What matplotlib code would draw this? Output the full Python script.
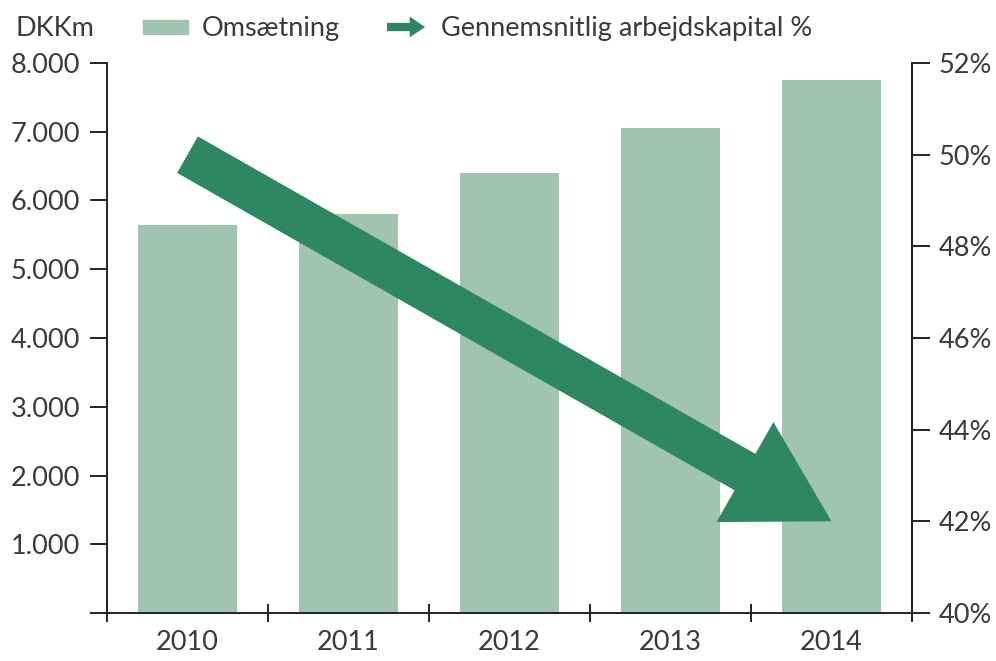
import matplotlib
matplotlib.use("Agg")
import matplotlib.pyplot as plt
from matplotlib.patches import Rectangle, FancyArrowPatch
from matplotlib.ticker import FuncFormatter, FixedLocator

# ---- data ----
years = ["2010", "2011", "2012", "2013", "2014"]
revenue = [5650, 5800, 6400, 7050, 7750]          # DKKm
wc_start = 50.0                                   # % in 2010
wc_end = 42.0                                     # % in 2014
left_ticks = [0, 1000, 2000, 3000, 4000, 5000, 6000, 7000, 8000]
right_ticks = [40, 42, 44, 46, 48, 50, 52]
legend_bar = "Omsætning"
legend_arrow = "Gennemsnitlig arbejdskapital %"
unit_label = "DKKm"

BAR_C = "#a0c4b1"
ARROW_C = "#2d8763"
TXT_C = "#3a3a3a"
FONT = ["Lato", "DejaVu Sans"]
FS = 19.5

plt.rcParams["font.family"] = FONT
plt.rcParams["text.color"] = TXT_C

W, H = 996, 661
fig = plt.figure(figsize=(W / 100, H / 100), dpi=100)
ax = fig.add_axes([107 / W, (H - 613) / H, (912 - 107) / W, 550 / H])

x = list(range(len(years)))
ax.bar(x, revenue, width=0.62, color=BAR_C, zorder=1)
ax.set_xlim(-0.5, len(years) - 0.5)
ax.set_ylim(0, 8000)

ax.spines["top"].set_visible(False)
for s in ["left", "bottom", "right"]:
    ax.spines[s].set_linewidth(1.4)
    ax.spines[s].set_color("#222222")

ax.yaxis.set_major_locator(FixedLocator(left_ticks))
ax.yaxis.set_major_formatter(FuncFormatter(lambda v, p: "" if v == 0 else f"{int(v):,}".replace(",", ".")))
ax.tick_params(axis="y", direction="out", length=12.5, width=1.4, color="#222222",
               pad=7, labelsize=FS, labelcolor=TXT_C)

ax.set_xticks(x)
ax.set_xticklabels(years)
ax.set_xticks([i - 0.5 for i in range(len(years) + 1)], minor=True)
ax.tick_params(axis="x", which="major", length=0, pad=12, labelsize=FS, labelcolor=TXT_C)
ax.tick_params(axis="x", which="minor", direction="inout", length=13, width=1.4, color="#222222")

ax2 = ax.twinx()
ax2.set_ylim(40, 52)
ax2.yaxis.set_major_locator(FixedLocator(right_ticks))
ax2.yaxis.set_major_formatter(FuncFormatter(lambda v, p: f"{int(v)}%"))
ax2.tick_params(axis="y", direction="out", length=13, width=1.4, color="#222222",
                pad=6, labelsize=FS, labelcolor=TXT_C)
for s in ["top", "left", "bottom"]:
    ax2.spines[s].set_visible(False)
ax2.spines["right"].set_linewidth(1.4)
ax2.spines["right"].set_color("#222222")

# arrow from 2010 value to 2014 value
dpi_cor = fig.dpi / 72.0
ms = 100
arrow = FancyArrowPatch((0, wc_start), (len(years) - 1, wc_end),
                        arrowstyle=f"simple,head_length={99.6/(ms*dpi_cor):.3f},"
                                   f"head_width={115/(ms*dpi_cor):.3f},"
                                   f"tail_width={42/(ms*dpi_cor):.3f}",
                        mutation_scale=ms, color=ARROW_C, lw=0,
                        shrinkA=0, shrinkB=0, zorder=5)
ax2.add_patch(arrow)

# ---- legend / header ----
fig.text(16 / W, 1 - 36 / H, unit_label, fontsize=FS, color=TXT_C, va="baseline", ha="left")
fig.patches.append(Rectangle((143 / W, 1 - 34 / H), 45 / W, 14 / H,
                             transform=fig.transFigure, color=BAR_C, figure=fig))
fig.text(202 / W, 1 - 36 / H, legend_bar, fontsize=FS, color=TXT_C, va="baseline", ha="left")
leg_arrow = FancyArrowPatch((387 / W, 1 - 27 / H), (425 / W, 1 - 27 / H),
                            transform=fig.transFigure,
                            arrowstyle="simple,head_length=0.55,head_width=0.75,tail_width=0.3",
                            mutation_scale=20, color=ARROW_C, lw=0, shrinkA=0, shrinkB=0)
fig.patches.append(leg_arrow)
fig.text(441 / W, 1 - 36 / H, legend_arrow, fontsize=FS, color=TXT_C, va="baseline", ha="left")

fig.savefig("out.png", dpi=100)
